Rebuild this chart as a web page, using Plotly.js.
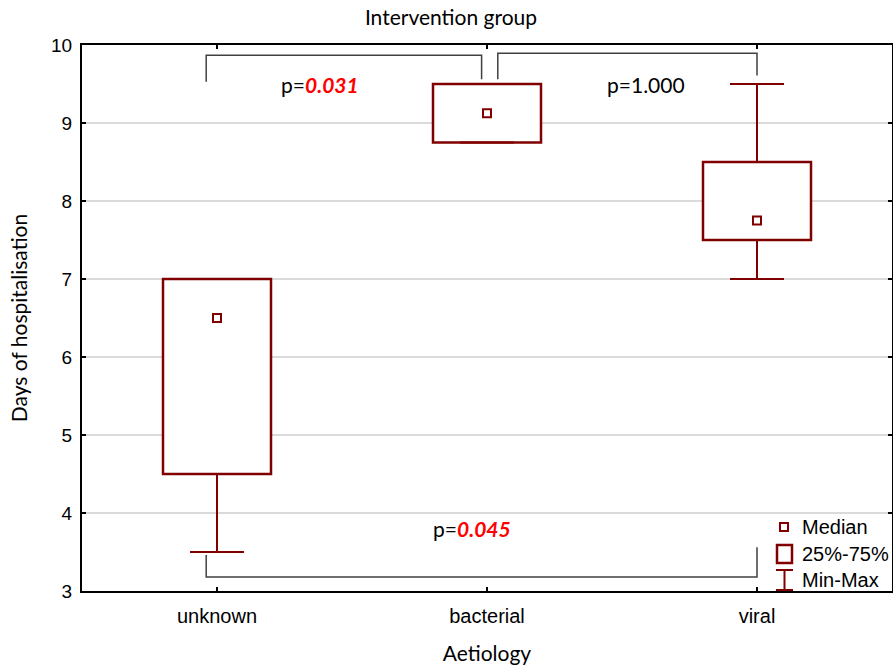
<!DOCTYPE html>
<html>
<head>
<meta charset="utf-8">
<script src="https://cdn.plot.ly/plotly-3.0.1.min.js"></script>
<style>body{margin:0;background:#fff}</style>
</head>
<body>
<div id="chart" style="width:893px;height:666px"></div>
<script>
// Days of hospitalisation by aetiology (intervention group)
const categories = ['unknown', 'bacterial', 'viral'];
const medianVals = [6.5, 9.125, 7.75];
const q1Vals = [4.5, 8.75, 7.5];
const q3Vals = [7.0, 9.5, 8.5];
const minVals = [3.5, 8.75, 7.0];
const maxVals = [7.0, 9.5, 9.5];
const yTickVals = [3, 4, 5, 6, 7, 8, 9, 10];

// pairwise comparisons: category indices and p-value
const pFrom = [0, 1, 0];
const pTo = [1, 2, 2];
const pValues = ['0.031', '1.000', '0.045'];
const pSignificant = [true, false, true];

const DARK_RED = '#800000';
const TEXT_FONT = 'Lato, "Open Sans", sans-serif';
const TICK_FONT = '"Liberation Sans", Arial, sans-serif';
const idx = categories.map((_, i) => i);
const boxWidth = 0.4;
const capHalf = 0.1;

// box body (interquartile range)
const boxTrace = {
  type: 'bar',
  x: idx,
  base: q1Vals,
  y: q3Vals.map((q, i) => q - q1Vals[i]),
  width: boxWidth,
  marker: {color: '#ffffff', line: {color: DARK_RED, width: 2.5}},
  hoverinfo: 'skip',
  showlegend: false
};

// whiskers with caps (min-max)
const wx = [], wy = [];
idx.forEach(i => {
  wx.push(i, i, null, i, i, null, i - capHalf, i + capHalf, null, i - capHalf, i + capHalf, null);
  wy.push(minVals[i], q1Vals[i], null, q3Vals[i], maxVals[i], null,
          minVals[i], minVals[i], null, maxVals[i], maxVals[i], null);
});
const whiskerTrace = {
  type: 'scatter', mode: 'lines', x: wx, y: wy,
  line: {color: DARK_RED, width: 2},
  hoverinfo: 'skip', showlegend: false
};

// median markers
const medianTrace = {
  type: 'scatter', mode: 'markers', x: idx, y: medianVals,
  marker: {symbol: 'square-open', size: 8, color: DARK_RED, line: {width: 2, color: DARK_RED}},
  showlegend: false
};

// comparison brackets (geometry relative to category positions)
const BR = '#404040';
const bracketStyle = [
  {dl: -0.04, dr: -0.02, top: 9.87, legL: 9.53, legR: 9.56, tx: 0.38, ty: 9.49},
  {dl: 0.04, dr: 0.0, top: 9.895, legL: 9.56, legR: 9.61, tx: 1.59, ty: 9.5},
  {dl: -0.04, dr: 0.0, top: 3.18, legL: 3.46, legR: 3.56, tx: 0.946, ty: 3.795}
];
const shapes = [];
const annotations = [];
pFrom.forEach((f, k) => {
  const s = bracketStyle[k];
  const xl = f + s.dl, xr = pTo[k] + s.dr;
  shapes.push({
    type: 'path', xref: 'x', yref: 'y',
    path: `M ${xl},${s.legL} L ${xl},${s.top} L ${xr},${s.top} L ${xr},${s.legR}`,
    line: {color: BR, width: 1.5}
  });
  const val = pSignificant[k]
    ? `<span style="color:#ff0000"><b><i>${pValues[k]}</i></b></span>`
    : pValues[k];
  annotations.push({
    xref: 'x', yref: 'y', x: s.tx, y: s.ty, showarrow: false,
    text: 'p=' + val,
    font: {family: TEXT_FONT, size: 21, color: '#000'}
  });
});

// legend drawn in paper coordinates
const px = v => (v - 82) / 810;
const py = v => (591 - v) / 546;
shapes.push(
  {type: 'rect', xref: 'paper', yref: 'paper', x0: px(780), x1: px(788), y0: py(531), y1: py(523),
   line: {color: DARK_RED, width: 2}, fillcolor: '#fff'},
  {type: 'rect', xref: 'paper', yref: 'paper', x0: px(777), x1: px(792), y0: py(563), y1: py(545),
   line: {color: DARK_RED, width: 2.5}, fillcolor: '#fff'},
  {type: 'line', xref: 'paper', yref: 'paper', x0: px(776), x1: px(793), y0: py(570), y1: py(570),
   line: {color: DARK_RED, width: 2}},
  {type: 'line', xref: 'paper', yref: 'paper', x0: px(784.5), x1: px(784.5), y0: py(570), y1: py(591),
   line: {color: DARK_RED, width: 2}},
  {type: 'line', xref: 'paper', yref: 'paper', x0: px(776), x1: px(793), y0: py(590), y1: py(590),
   line: {color: DARK_RED, width: 2}}
);
const legendLabels = ['Median', '25%-75%', 'Min-Max'];
const legendY = [527, 554, 580];
legendLabels.forEach((t, i) => annotations.push({
  xref: 'paper', yref: 'paper', x: px(800), y: py(legendY[i]), xanchor: 'left', yanchor: 'middle',
  showarrow: false, text: t,
  font: {family: TICK_FONT, size: 20, color: '#000'}
}));

const layout = {
  width: 893, height: 666,
  margin: {l: 82, r: 1, t: 45, b: 75},
  paper_bgcolor: '#fff', plot_bgcolor: '#fff',
  title: {
    text: 'Intervention group', x: 0.505, xanchor: 'center', y: 1 - 18 / 666, yanchor: 'middle',
    font: {family: TEXT_FONT, size: 21, color: '#000'}
  },
  xaxis: {
    range: [-0.5, 2.5], tickvals: idx, ticktext: categories,
    showline: true, linecolor: '#000', linewidth: 2, mirror: 'ticks',
    ticks: 'inside', ticklen: 4, tickwidth: 2, tickcolor: '#000',
    showgrid: false, zeroline: false, ticklabelstandoff: 6,
    tickfont: {family: TICK_FONT, size: 20, color: '#000'},
    title: {text: 'Aetiology', standoff: 20,
      font: {family: TEXT_FONT, size: 21, color: '#000'}}
  },
  yaxis: {
    range: [3, 10], tickvals: yTickVals,
    showline: true, linecolor: '#000', linewidth: 2, mirror: 'ticks',
    ticks: 'inside', ticklen: 4, tickwidth: 2, tickcolor: '#000',
    showgrid: true, gridcolor: '#dadada', gridwidth: 2, zeroline: false, ticklabelstandoff: 4,
    tickfont: {family: TICK_FONT, size: 19, color: '#000'},
    title: {text: 'Days of hospitalisation', standoff: 18,
      font: {family: TEXT_FONT, size: 21, color: '#000'}}
  },
  shapes: shapes,
  annotations: annotations,
  bargap: 0
};

Plotly.newPlot('chart', [boxTrace, whiskerTrace, medianTrace], layout, {displayModeBar: false, staticPlot: true});
</script>
</body>
</html>
